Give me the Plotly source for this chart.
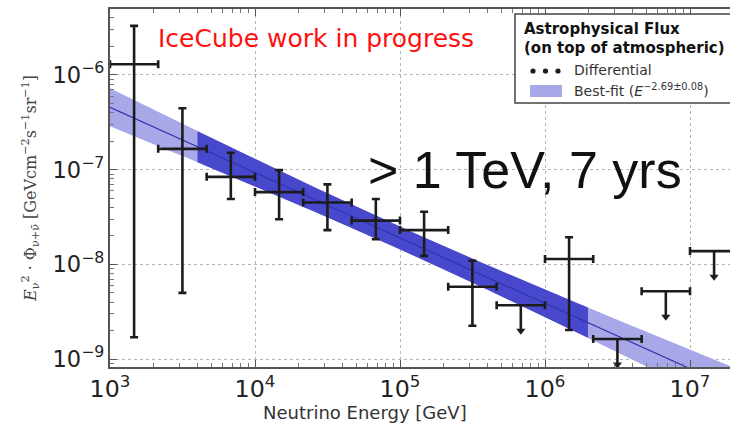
import numpy as np
import plotly.graph_objects as go

# ---- Unfolded astrophysical flux, E^2 * Phi [GeV cm^-2 s^-1 sr^-1] ----
# Measured bins: energy bin edges [GeV], central value, 68% interval
meas_e_lo = [1.0e3, 2.15e3, 4.64e3, 1.0e4, 2.15e4, 4.64e4, 1.0e5, 2.15e5, 1.0e6]
meas_e_hi = [2.15e3, 4.64e3, 1.0e4, 2.15e4, 4.64e4, 1.0e5, 2.15e5, 4.64e5, 2.15e6]
meas_flux = [1.30e-6, 1.66e-7, 8.4e-8, 5.8e-8, 4.5e-8, 2.9e-8, 2.3e-8, 5.8e-9, 1.14e-8]
meas_up = [3.3e-6, 4.45e-7, 1.51e-7, 9.9e-8, 7.0e-8, 4.9e-8, 3.6e-8, 1.09e-8, 1.93e-8]
meas_down = [1.7e-9, 5.0e-9, 4.9e-8, 3.0e-8, 2.3e-8, 1.84e-8, 1.23e-8, 2.25e-9, 2.03e-9]

# Bins with upper limits only
ul_e_lo = [4.64e5, 2.15e6, 4.64e6, 1.0e7]
ul_e_hi = [1.0e6, 4.64e6, 1.0e7, 2.15e7]
ul_flux = [3.7e-9, 1.63e-9, 5.2e-9, 1.38e-8]

# Best-fit single power law
fit_gamma = 2.69
fit_gamma_err = 0.08
fit_norm = 1.9e-8          # E^2 Phi at the pivot energy
fit_pivot = 1.0e5          # GeV
fit_norm_err_dex = 0.12    # normalisation uncertainty in decades
sensitive_range = [4.0e3, 2.0e6]

ARROW_DEX = 0.27           # length of the upper-limit arrows in decades

meas_e = np.sqrt(np.array(meas_e_lo) * np.array(meas_e_hi))
ul_e = np.sqrt(np.array(ul_e_lo) * np.array(ul_e_hi))
meas_flux_a = np.array(meas_flux)
ul_flux_a = np.array(ul_flux)
ul_tip = ul_flux_a * 10 ** (-ARROW_DEX)

# Power-law band
E = np.logspace(3, 7.4, 300)
center = fit_norm * (E / fit_pivot) ** (2 - fit_gamma)
half = np.sqrt(fit_norm_err_dex ** 2 + (fit_gamma_err * np.log10(E / fit_pivot)) ** 2)
upper = center * 10 ** half
lower = center / 10 ** half

inner = (E >= sensitive_range[0]) & (E <= sensitive_range[1])

LIGHT = "rgb(168,168,232)"
DARK = "rgb(72,72,205)"
INK = "#1c1c1c"

fig = go.Figure()

fig.add_trace(go.Scatter(
    x=np.concatenate([E, E[::-1]]), y=np.concatenate([upper, lower[::-1]]),
    fill="toself", fillcolor=LIGHT, line=dict(width=0), mode="lines",
    hoverinfo="skip", showlegend=False,
))
fig.add_trace(go.Scatter(
    x=np.concatenate([E[inner], E[inner][::-1]]),
    y=np.concatenate([upper[inner], lower[inner][::-1]]),
    fill="toself", fillcolor=DARK, line=dict(width=0), mode="lines",
    hoverinfo="skip", showlegend=False,
))
fig.add_trace(go.Scatter(
    x=E, y=center, mode="lines", line=dict(color="rgb(50,50,175)", width=1.2),
    hoverinfo="skip", showlegend=False,
))

# Measured points
fig.add_trace(go.Scatter(
    x=meas_e, y=meas_flux_a, mode="markers", name="Differential",
    marker=dict(color=INK, size=1),
    error_x=dict(type="data", symmetric=False,
                 array=np.array(meas_e_hi) - meas_e,
                 arrayminus=meas_e - np.array(meas_e_lo),
                 color=INK, thickness=2.6, width=4),
    error_y=dict(type="data", symmetric=False,
                 array=np.array(meas_up) - meas_flux_a,
                 arrayminus=meas_flux_a - np.array(meas_down),
                 color=INK, thickness=2.6, width=4),
    showlegend=False,
))

# Upper limits
fig.add_trace(go.Scatter(
    x=ul_e, y=ul_flux_a, mode="markers",
    marker=dict(color=INK, size=1),
    error_x=dict(type="data", symmetric=False,
                 array=np.array(ul_e_hi) - ul_e,
                 arrayminus=ul_e - np.array(ul_e_lo),
                 color=INK, thickness=2.6, width=4),
    error_y=dict(type="data", symmetric=False,
                 array=np.zeros(len(ul_flux)),
                 arrayminus=ul_flux_a - ul_tip,
                 color=INK, thickness=2.6, width=0),
    showlegend=False,
))
fig.add_trace(go.Scatter(
    x=ul_e, y=ul_tip, mode="markers",
    marker=dict(color=INK, size=8, symbol="triangle-down"),
    showlegend=False,
))

L, R, T, B = 110, 0, 9, 62
W, H = 730, 429
pw, ph = W - L - R, H - T - B


def px_x(px):
    return (px - L) / pw


def px_y(py):
    return 1 - (py - T) / ph


axis_common = dict(
    type="log", dtick=1, showgrid=True, gridcolor="#b4b4b4", griddash="dot", gridwidth=1,
    showline=True, linecolor="#555555", linewidth=2,
    ticks="inside", ticklen=7, tickcolor="#555555", tickwidth=1,
    minor=dict(ticks="inside", ticklen=4, tickcolor="#777777", dtick="D1", showgrid=False),
    exponentformat="power", showexponent="all", zeroline=False,
)

# Legend box drawn in the upper right corner
shapes = [
    dict(type="rect", xref="paper", yref="paper",
         x0=px_x(515), x1=px_x(740), y0=px_y(103), y1=px_y(14),
         fillcolor="white", line=dict(color="#444444", width=1.5), layer="above"),
    dict(type="rect", xref="paper", yref="paper",
         x0=px_x(530), x1=px_x(562), y0=px_y(97), y1=px_y(85),
         fillcolor=LIGHT, line=dict(width=0), layer="above"),
]
for cx in (533, 545.5, 558):
    shapes.append(dict(type="circle", xref="paper", yref="paper",
                       x0=px_x(cx - 2.6), x1=px_x(cx + 2.6),
                       y0=px_y(71 + 2.6), y1=px_y(71 - 2.6),
                       fillcolor=INK, line=dict(width=0), layer="above"))

legend_font = dict(family="DejaVu Sans", size=14, color="#333333")
annotations = [
    dict(text="<b>Astrophysical Flux</b>", xref="paper", yref="paper",
         x=px_x(522), y=px_y(29), xanchor="left", yanchor="middle", showarrow=False,
         font=dict(family="DejaVu Sans", size=15, color="#111111")),
    dict(text="<b>(on top of atmospheric)</b>", xref="paper", yref="paper",
         x=px_x(522), y=px_y(48), xanchor="left", yanchor="middle", showarrow=False,
         font=dict(family="DejaVu Sans", size=15, color="#111111")),
    dict(text="Differential", xref="paper", yref="paper",
         x=px_x(572), y=px_y(70), xanchor="left", yanchor="middle", showarrow=False,
         font=legend_font),
    dict(text="Best-fit (<i>E</i><sup>−%.2f±%.2f</sup>)" % (fit_gamma, fit_gamma_err),
         xref="paper", yref="paper",
         x=px_x(572), y=px_y(90), xanchor="left", yanchor="middle", showarrow=False,
         font=legend_font),
    dict(text="IceCube work in progress", xref="paper", yref="paper",
         x=px_x(316), y=px_y(38), xanchor="center", yanchor="middle", showarrow=False,
         font=dict(family="DejaVu Sans", size=25, color="#ff1010")),
    dict(text="> 1 TeV, 7 yrs", xref="paper", yref="paper",
         x=px_x(525), y=px_y(170), xanchor="center", yanchor="middle", showarrow=False,
         font=dict(family="Liberation Sans", size=52, color="#111111")),
    dict(text="Neutrino Energy [GeV]", xref="paper", yref="paper",
         x=px_x(365), y=px_y(412), xanchor="center", yanchor="middle", showarrow=False,
         font=dict(family="DejaVu Sans", size=18, color="#333333")),
]

fig.update_layout(
    width=W, height=H,
    margin=dict(l=L, r=R, t=T, b=B),
    paper_bgcolor="white", plot_bgcolor="white",
    showlegend=False,
    xaxis=dict(
        axis_common, range=[3, 3 + 620 / 145.0], mirror="allticks",
        tickfont=dict(family="DejaVu Sans", size=19, color="#222222"),
    ),
    yaxis=dict(
        axis_common, range=[-9.084, -5.303], mirror=False,
        tickfont=dict(family="DejaVu Sans", size=18, color="#222222"),
        title=dict(
            text="<i>E</i><sub>ν</sub><sup>2</sup> · Φ<sub>ν+ν̄</sub> [GeVcm<sup>−2</sup>s<sup>−1</sup>sr<sup>−1</sup>]",
            standoff=12, font=dict(family="DejaVu Serif", size=16, color="#444444")),
    ),
    shapes=shapes,
    annotations=annotations,
)

fig.write_html("out.html")
